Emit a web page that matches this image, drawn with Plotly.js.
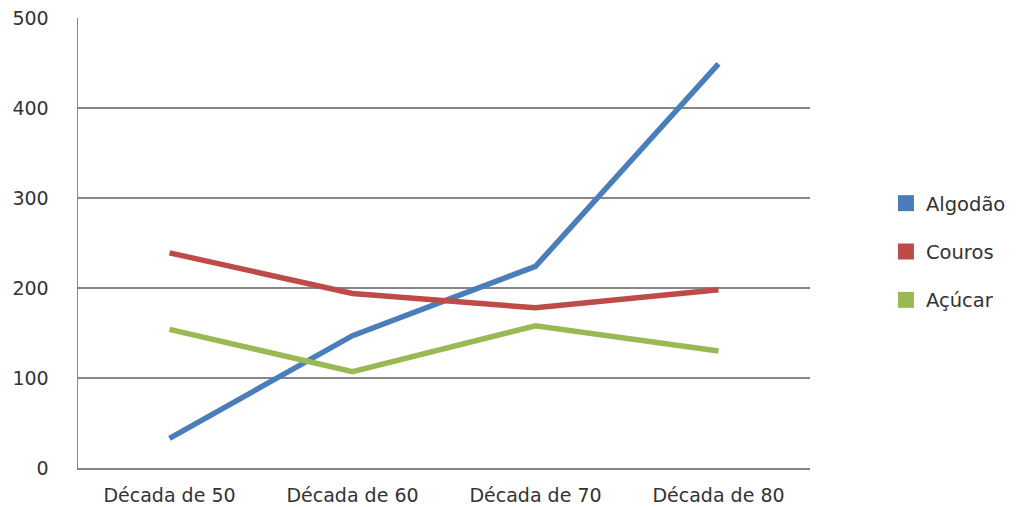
<!DOCTYPE html>
<html><head><meta charset="utf-8">
<script src="https://cdn.plot.ly/plotly-3.0.1.min.js"></script>
<style>body{margin:0;background:#fff}#c{width:1016px;height:507px}</style>
</head><body><div id="c"></div>
<script>
var categories = ["Década de 50", "Década de 60", "Década de 70", "Década de 80"];
var algodao = [33, 147, 224, 449];
var couros = [239, 194, 178, 198];
var acucar = [154, 107, 158, 130];
var names = ["Algodão", "Couros", "Açúcar"];
var colors = ["#4A7EBB", "#BE4B48", "#98B954"];
var series = [algodao, couros, acucar];

var traces = [];
series.forEach(function(s, i) {
  traces.push({x: categories, y: s, type: "scatter", mode: "lines",
    line: {color: colors[i], width: 5.5}, showlegend: false, hoverinfo: "skip"});
});
series.forEach(function(s, i) {
  traces.push({x: [categories[0]], y: [null], type: "scatter", mode: "markers", name: names[i],
    legendgroup: "g" + i,
    marker: {symbol: "square", size: 16, color: colors[i]}, showlegend: true});
});

var layout = {
  width: 1016, height: 507,
  margin: {l: 78, r: 206, t: 18, b: 39},
  paper_bgcolor: "#fff", plot_bgcolor: "#fff",
  font: {family: "DejaVu Sans, Verdana, sans-serif", size: 19, color: "#333"},
  showlegend: true,
  legend: {xref: "container", yref: "container", x: 0.872, y: 0.503, xanchor: "left", yanchor: "middle",
    tracegroupgap: 20, font: {size: 19.5, color: "#333"}, itemwidth: 30},
  xaxis: {type: "category", range: [-0.5, 3.5], showgrid: false, showline: true,
    linecolor: "#868686", linewidth: 1.5, ticks: "", ticklabelstandoff: 10, zeroline: false,
    tickfont: {size: 19}},
  yaxis: {range: [0, 500], dtick: 100, showgrid: true, gridcolor: "#868686", gridwidth: 1.2,
    showline: true, linecolor: "#868686", linewidth: 1.5, ticks: "", zeroline: false,
    ticklabelstandoff: 24, tickfont: {size: 19}}
};
Plotly.newPlot("c", traces, layout, {displayModeBar: false, staticPlot: true});
</script></body></html>
